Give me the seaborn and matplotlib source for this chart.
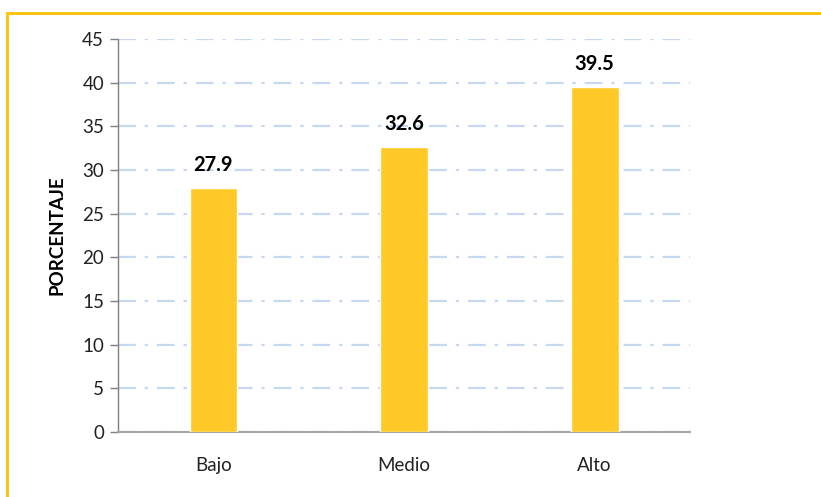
import matplotlib
matplotlib.use("Agg")
import matplotlib.pyplot as plt
from matplotlib.patches import Rectangle
import seaborn as sns
import pandas as pd

categories = ["Bajo", "Medio", "Alto"]
values = [27.9, 32.6, 39.5]
y_ticks = [0, 5, 10, 15, 20, 25, 30, 35, 40, 45]

sns.set_theme(style="white")
plt.rcParams["font.family"] = ["Lato", "DejaVu Sans"]

df = pd.DataFrame({"nivel": categories, "porcentaje": values})

fig = plt.figure(figsize=(8.21, 4.97), dpi=100)
ax = fig.add_axes([118 / 821, 1 - 432 / 497, 572 / 821, 393 / 497])

sns.barplot(data=df, x="nivel", y="porcentaje", color="#FFCA28",
            saturation=1, width=0.25, ax=ax, zorder=3)

ax.set_ylim(0, 45)
ax.set_xlim(-0.5, 2.5)
ax.set_yticks(y_ticks)
ax.yaxis.grid(True, color="#C6D9F1", linewidth=1.6, linestyle=(0, (8, 4, 1.5, 4)), zorder=0)
ax.xaxis.grid(False)

for s in ["top", "right"]:
    ax.spines[s].set_visible(False)
ax.spines["left"].set_color("#808080")
ax.spines["bottom"].set_color("#A6A6A6")
ax.spines["bottom"].set_linewidth(1.5)
ax.spines["left"].set_linewidth(1.0)

ax.tick_params(axis="y", which="major", left=True, length=6, width=1,
               color="#808080", labelsize=13.5, labelcolor="#222222", pad=4)
ax.tick_params(axis="x", bottom=False, labelsize=13.5, labelcolor="#222222", pad=12)

ax.set_xlabel("")
ax.set_ylabel("PORCENTAJE", fontsize=13.5, fontweight="bold", color="black", labelpad=12)

for i, v in enumerate(values):
    ax.text(i, v + 1.5, f"{v:.1f}", ha="center", va="bottom",
            fontsize=14.5, fontweight="bold", color="black")

# outer frame, only the top and left edges fall inside the canvas
frame = Rectangle((7 / 821, -0.2), 1.2, 1.2 - 13 / 497,
                  transform=fig.transFigure, fill=False,
                  edgecolor="#FFC000", linewidth=2, clip_on=False)
fig.patches.append(frame)

fig.savefig("out.png", dpi=100)
